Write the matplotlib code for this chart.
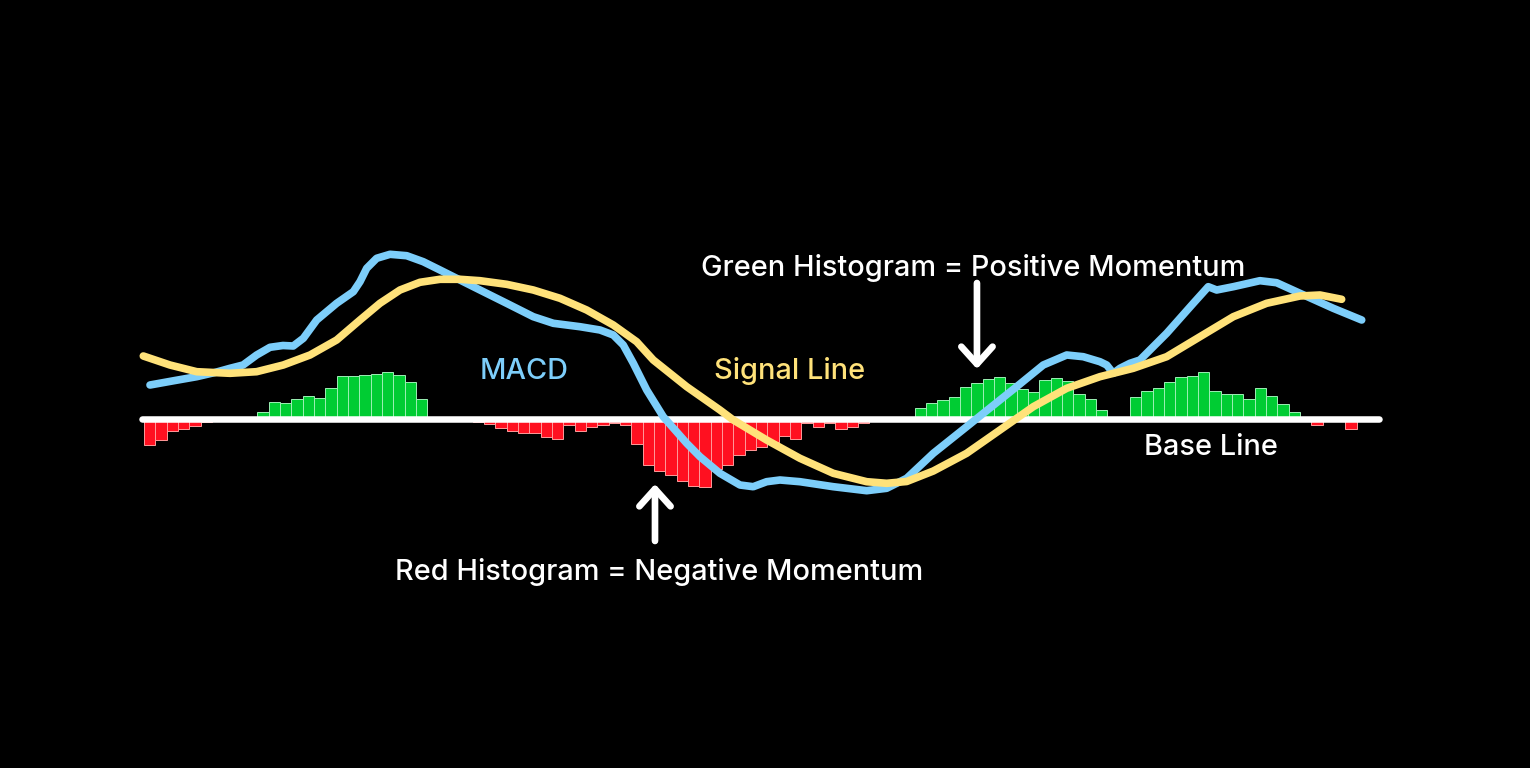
import matplotlib.pyplot as plt
import numpy as np

plt.rcParams['font.family'] = ['Inter', 'DejaVu Sans']

# histogram values, one per bar (0 = no bar)
hist = [
    -26.5, -21.5, -12.5, -10.8, -7.5, -3.8,
    0, 0, 0, 0,
    6.8, 16.5, 15.2, 19.2, 22.5, 20.5, 30.5, 42.5, 42.5, 43.5, 44.8, 46.2, 43.5, 36.5, 19.2,
    0, 0, 0, 0,
    -3.8, -5.5, -9.5, -12.2, -14.8, -14.8, -18.8, -20.5, -6.8, -12.2, -8.8, -6.8,
    -4.2, -6.8, -25.8, -46.5, -52.2, -56.5, -62.2, -67.5, -68.8, -50.8, -46.5, -36.5,
    -31.8, -28.8, -23.0, -17.2, -20.5, -4.2, -8.2, -4.2, -10.8, -8.2, -4.2, -2.2,
    0, 0, 0,
    10.2, 15.2, 18.5, 21.8, 31.5, 35.5, 39.2, 41.8, 35.5, 29.8, 26.5, 38.8, 40.8, 37.5,
    24.5, 19.2, 8.2,
    0, 0,
    21.8, 27.2, 30.5, 36.2, 41.2, 42.2, 46.2, 27.2, 24.2, 24.2, 19.5, 30.5, 22.5, 14.8, 6.8,
    0,
    -6.5, -1.8, -2.5, -10.8,
]

# MACD line
macd_x = [0.53, 2.74, 4.65, 6.26, 7.59, 8.74, 9.94, 11.12, 12.26, 13.17, 14.06, 15.24,
          17.0, 18.47, 19.06, 19.65, 20.53, 21.71, 23.18, 24.64, 26.12, 29.06, 32.0,
          34.35, 36.12, 38.47, 40.24, 41.41, 42.29, 43.18, 44.36, 45.82, 47.89, 49.06,
          50.82, 52.59, 53.76, 54.94, 56.12, 57.88, 60.82, 63.77, 65.53, 67.3, 69.65,
          72.59, 74.06, 77.0, 79.35, 81.42, 82.88, 84.35, 84.95, 85.53, 86.12, 87.0,
          87.88, 90.24, 92.59, 93.91, 94.65, 96.12, 98.47, 99.94, 102.0, 104.94, 107.45]
macd_y = [33.5, 38.0, 41.8, 46.0, 50.2, 53.5, 63.5, 71.2, 73.0, 72.5, 80.2, 98.5,
          115.2, 126.8, 136.8, 150.2, 160.2, 164.2, 162.8, 156.8, 148.5, 131.8, 115.2,
          101.8, 95.2, 91.8, 88.5, 83.5, 73.5, 55.2, 28.5, 1.8, -24.8, -38.2,
          -54.8, -66.5, -68.2, -63.2, -61.5, -63.2, -68.2, -72.2, -69.8, -59.8, -34.8,
          -8.2, 5.2, 31.8, 53.5, 63.5, 61.8, 56.8, 53.5, 45.2, 50.2, 55.2,
          58.5, 85.2, 115.2, 131.8, 128.5, 131.8, 137.8, 135.8, 125.2, 110.2, 98.5]

# signal line
signal_x = [-0.06, 2.29, 4.65, 7.59, 9.94, 12.29, 14.65, 17.0, 19.06, 20.82, 22.59,
            24.35, 26.12, 27.88, 29.65, 32.0, 34.35, 36.71, 39.06, 41.41, 43.47, 44.94,
            47.89, 50.82, 52.0, 54.94, 57.88, 60.82, 63.77, 65.53, 67.3, 69.65, 72.59,
            75.53, 78.47, 81.42, 84.35, 87.29, 90.24, 93.18, 96.12, 99.06, 102.0,
            103.77, 105.68]
signal_y = [62.5, 53.5, 46.8, 45.2, 46.8, 53.5, 63.5, 78.5, 98.5, 115.2, 128.5,
            136.2, 139.2, 139.2, 137.8, 134.2, 128.5, 120.2, 108.5, 93.5, 76.8, 58.5,
            31.8, 8.5, -1.5, -21.5, -39.8, -54.8, -63.2, -64.8, -63.0, -52.5, -34.8,
            -11.5, 11.8, 30.2, 41.8, 50.2, 61.8, 81.8, 101.8, 115.2, 122.5,
            123.5, 119.2]

base_span = (-0.2, 109.0)

green = '#00CC33'
red = '#FF1020'
blue = '#7DCEFA'
yellow = '#FFE27A'

fig = plt.figure(figsize=(15.3, 7.68), dpi=100, facecolor='black')
ax = fig.add_axes([0, 0, 1, 1])
ax.set_facecolor('black')
ax.axis('off')
ax.set_xlim(-12.706, 122.3)
ax.set_ylim(-349.5, 418.5)

# histogram
h = np.array(hist)
x = np.arange(len(h))
pos = h > 0
neg = h < 0
ax.bar(x[pos], h[pos], width=1, align='edge', color=green,
       edgecolor='#9CF0B4', linewidth=0.7, zorder=2)
ax.bar(x[neg], h[neg], width=1, align='edge', color=red,
       edgecolor='#FF9A9A', linewidth=0.7, zorder=2)

# base line
ax.plot(base_span, [0, 0], color='white', lw=4.7, solid_capstyle='round', zorder=3)

# MACD and signal
ax.plot(macd_x, macd_y, color=blue, lw=5.5, solid_capstyle='round',
        solid_joinstyle='round', zorder=4)
ax.plot(signal_x, signal_y, color=yellow, lw=5.5, solid_capstyle='round',
        solid_joinstyle='round', zorder=5)

# labels
fs = 20.8
ax.text(33.53, 39.2, 'MACD', color=blue, fontsize=fs, fontweight='medium',
        ha='center', va='baseline')
ax.text(56.94, 39.2, 'Signal Line', color=yellow, fontsize=fs, fontweight='medium',
        ha='center', va='baseline')
ax.text(94.15, -36.5, 'Base Line', color='white', fontsize=fs, fontweight='medium',
        ha='center', va='baseline')
ax.text(73.19, 142.5, 'Green Histogram = Positive Momentum', color='white',
        fontsize=fs, fontweight='medium', ha='center', va='baseline')
ax.text(45.49, -161.5, 'Red Histogram = Negative Momentum', color='white',
        fontsize=fs, fontweight='medium', ha='center', va='baseline')

# arrows
arrow = dict(arrowstyle='->, head_length=0.5, head_width=0.45', color='white',
             lw=4.8, capstyle='round', joinstyle='round', mutation_scale=25,
             shrinkA=0, shrinkB=0)
ax.annotate('', xy=(73.5, 49.5), xytext=(73.5, 135.5), arrowprops=arrow, zorder=6)
ax.annotate('', xy=(45.09, -65.5), xytext=(45.09, -122.5), arrowprops=arrow, zorder=6)

fig.savefig('out.png', dpi=100, facecolor='black')
